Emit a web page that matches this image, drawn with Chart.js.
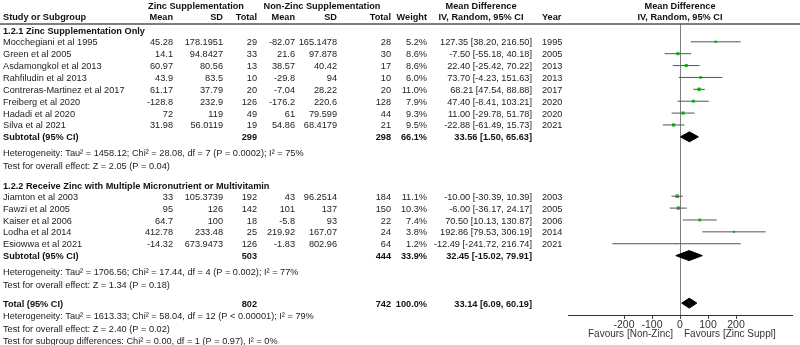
<!DOCTYPE html>
<html>
<head>
<meta charset="utf-8">
<script src="https://cdn.jsdelivr.net/npm/chart.js@4/dist/chart.umd.min.js"></script>
<style>
  html, body { margin: 0; padding: 0; background: #fff; }
</style>
</head>
<body>
<canvas id="forest" width="800" height="345"></canvas>
<script>
// 1.2.1 Zinc supplementation only
const studies1 = ['Mocchegiani et al 1995', 'Green et al 2005', 'Asdamongkol et al 2013', 'Rahfiludin et al 2013',
                  'Contreras-Martinez et al 2017', 'Freiberg et al 2020', 'Hadadi et al 2020', 'Silva et al 2021'];
const zincMean1 = [45.28, 14.1, 60.97, 43.9, 61.17, -128.8, 72, 31.98];
const zincSD1 = [178.1951, 94.8427, 80.56, 83.5, 37.79, 232.9, 119, 56.0119];
const zincN1 = [29, 33, 13, 10, 20, 126, 49, 19];
const ctrlMean1 = [-82.07, 21.6, 38.57, -29.8, -7.04, -176.2, 61, 54.86];
const ctrlSD1 = [165.1478, 97.878, 40.42, 94, 28.22, 220.6, 79.599, 68.4179];
const ctrlN1 = [28, 30, 17, 10, 20, 128, 44, 21];
const weight1 = [5.2, 8.6, 8.6, 6.0, 11.0, 7.9, 9.3, 9.5];
const md1 = [127.35, -7.50, 22.40, 73.70, 68.21, 47.40, 11.00, -22.88];
const lo1 = [38.20, -55.18, -25.42, -4.23, 47.54, -8.41, -29.78, -61.49];
const hi1 = [216.50, 40.18, 70.22, 151.63, 88.88, 103.21, 51.78, 15.73];
const year1 = [1995, 2005, 2013, 2013, 2017, 2020, 2020, 2021];

// 1.2.2 Zinc with multiple micronutrient or multivitamin
const studies2 = ['Jiamton et al 2003', 'Fawzi et al 2005', 'Kaiser et al 2006', 'Lodha et al 2014', 'Esiowwa et al 2021'];
const zincMean2 = [33, 95, 64.7, 412.78, -14.32];
const zincSD2 = [105.3739, 126, 100, 233.48, 673.9473];
const zincN2 = [192, 142, 18, 25, 126];
const ctrlMean2 = [43, 101, -5.8, 219.92, -1.83];
const ctrlSD2 = [96.2514, 137, 93, 167.07, 802.96];
const ctrlN2 = [184, 150, 22, 24, 64];
const weight2 = [11.1, 10.3, 7.4, 3.8, 1.2];
const md2 = [-10.00, -6.00, 70.50, 192.86, -12.49];
const lo2 = [-30.39, -36.17, 10.13, 79.53, -241.72];
const hi2 = [10.39, 24.17, 130.87, 306.19, 216.74];
const year2 = [2003, 2005, 2006, 2014, 2021];

// pooled: subgroup 1, subgroup 2, total
const pooledLabel = ['Subtotal (95% CI)', 'Subtotal (95% CI)', 'Total (95% CI)'];
const pooledZincN = [299, 503, 802];
const pooledCtrlN = [298, 444, 742];
const pooledWeight = [66.1, 33.9, 100.0];
const pooledMD = [33.56, 32.45, 33.14];
const pooledLo = [1.50, -15.02, 6.09];
const pooledHi = [65.63, 79.91, 60.19];

const xTicks = [-200, -100, 0, 100, 200];

// row layout (one unit = one table line)
const rows1 = studies1.map((s, i) => i);
const rows2 = studies2.map((s, i) => 13 + i);
const pooledRows = [8, 18, 22];

const F = '"Liberation Sans", Arial, sans-serif';
const fmt = v => v.toFixed(2);
const ci = (m, l, h) => fmt(m) + ' [' + fmt(l) + ', ' + fmt(h) + ']';

// build chart data from the arrays
const allMD = md1.concat(md2), allLo = lo1.concat(lo2), allHi = hi1.concat(hi2);
const allW = weight1.concat(weight2), allRows = rows1.concat(rows2);

const ciData = [];
allRows.forEach((r, i) => {
  ciData.push({ x: allLo[i], y: r }, { x: allHi[i], y: r }, { x: null, y: null });
});
const sqData = allRows.map((r, i) => ({ x: allMD[i], y: r }));

const dh = 0.42;
const diamonds = pooledRows.map((r, i) => ({
  type: 'scatter',
  data: [
    { x: pooledLo[i], y: r }, { x: pooledMD[i], y: r - dh },
    { x: pooledHi[i], y: r }, { x: pooledMD[i], y: r + dh }, { x: pooledLo[i], y: r }
  ],
  showLine: true,
  fill: 'shape',
  backgroundColor: '#000',
  borderColor: '#000',
  borderWidth: 1,
  pointRadius: 0
}));

const tablePlugin = {
  id: 'table',
  afterDraw(chart) {
    const c = chart.ctx, y = chart.scales.y;
    const py = v => y.getPixelForValue(v);
    const txt = (s, x, r, align, bold, color) => {
      c.font = (bold ? 'bold ' : '') + '9.2px ' + F;
      c.fillStyle = color || (bold ? '#111' : '#222');
      c.textAlign = align;
      c.textBaseline = 'middle';
      c.fillText(s, x, py(r) + 1);
    };
    c.save();
    // header
    txt('Zinc Supplementation', 196, -3.05, 'center', true);
    txt('Non-Zinc Supplementation', 322, -3.05, 'center', true);
    txt('Mean Difference', 481, -3.05, 'center', true);
    txt('Mean Difference', 680, -3.05, 'center', true);
    txt('Study or Subgroup', 3, -2.1, 'left', true);
    txt('Mean', 173, -2.1, 'right', true);
    txt('SD', 223, -2.1, 'right', true);
    txt('Total', 257, -2.1, 'right', true);
    txt('Mean', 295, -2.1, 'right', true);
    txt('SD', 337, -2.1, 'right', true);
    txt('Total', 391, -2.1, 'right', true);
    txt('Weight', 427, -2.1, 'right', true);
    txt('IV, Random, 95% CI', 481, -2.1, 'center', true);
    txt('Year', 542, -2.1, 'left', true);
    txt('IV, Random, 95% CI', 680, -2.1, 'center', true);
    // separator
    c.strokeStyle = '#555';
    c.lineWidth = 1.5;
    c.beginPath();
    c.moveTo(0, chart.chartArea.top);
    c.lineTo(800, chart.chartArea.top);
    c.stroke();

    const group = (names, zm, zs, zn, cm, cs, cn, w, m, l, h, yr, rows) => {
      names.forEach((n, i) => {
        const r = rows[i];
        txt(n, 3, r, 'left');
        txt(String(zm[i]), 173, r, 'right');
        txt(String(zs[i]), 223, r, 'right');
        txt(String(zn[i]), 257, r, 'right');
        txt(String(cm[i]), 295, r, 'right');
        txt(String(cs[i]), 337, r, 'right');
        txt(String(cn[i]), 391, r, 'right');
        txt(w[i].toFixed(1) + '%', 427, r, 'right');
        txt(ci(m[i], l[i], h[i]), 532, r, 'right');
        txt(String(yr[i]), 542, r, 'left');
      });
    };
    txt('1.2.1 Zinc Supplementation Only', 3, -0.95, 'left', true);
    group(studies1, zincMean1, zincSD1, zincN1, ctrlMean1, ctrlSD1, ctrlN1, weight1, md1, lo1, hi1, year1, rows1);
    txt('1.2.2 Receive Zinc with Multiple Micronutrient or Multivitamin', 3, 12.1, 'left', true);
    group(studies2, zincMean2, zincSD2, zincN2, ctrlMean2, ctrlSD2, ctrlN2, weight2, md2, lo2, hi2, year2, rows2);

    pooledRows.forEach((r, i) => {
      txt(pooledLabel[i], 3, r, 'left', true);
      txt(String(pooledZincN[i]), 257, r, 'right', true);
      txt(String(pooledCtrlN[i]), 391, r, 'right', true);
      txt(pooledWeight[i].toFixed(1) + '%', 427, r, 'right', true);
      txt(ci(pooledMD[i], pooledLo[i], pooledHi[i]), 532, r, 'right', true);
    });

    txt('Heterogeneity: Tau\u00B2 = 1458.12; Chi\u00B2 = 28.08, df = 7 (P = 0.0002); I\u00B2 = 75%', 3, 9.3, 'left');
    txt('Test for overall effect: Z = 2.05 (P = 0.04)', 3, 10.4, 'left');
    txt('Heterogeneity: Tau\u00B2 = 1706.56; Chi\u00B2 = 17.44, df = 4 (P = 0.002); I\u00B2 = 77%', 3, 19.3, 'left');
    txt('Test for overall effect: Z = 1.34 (P = 0.18)', 3, 20.4, 'left');
    txt('Heterogeneity: Tau\u00B2 = 1613.33; Chi\u00B2 = 58.04, df = 12 (P < 0.00001); I\u00B2 = 79%', 3, 23.0, 'left');
    txt('Test for overall effect: Z = 2.40 (P = 0.02)', 3, 24.1, 'left');
    txt('Test for subgroup differences: Chi\u00B2 = 0.00, df = 1 (P = 0.97), I\u00B2 = 0%', 3, 25.15, 'left');

    // favours labels
    c.font = '10px ' + F;
    c.fillStyle = '#333';
    c.textBaseline = 'middle';
    c.textAlign = 'right';
    c.fillText('Favours [Non-Zinc]', 673, 334);
    c.textAlign = 'left';
    c.fillText('Favours [Zinc Suppl]', 684, 334);
    c.restore();
  }
};

new Chart(document.getElementById('forest'), {
  type: 'scatter',
  data: {
    datasets: [
      {
        data: ciData,
        showLine: true,
        spanGaps: false,
        borderColor: '#555',
        borderWidth: 1,
        pointRadius: 0
      },
      {
        data: sqData,
        pointStyle: 'rect',
        pointRadius: ctx => 0.75 * Math.sqrt(allW[ctx.dataIndex]),
        backgroundColor: '#11cc11',
        borderWidth: 0
      },
      ...diamonds
    ]
  },
  options: {
    responsive: false,
    animation: false,
    devicePixelRatio: 1,
    layout: { padding: { left: 568, right: 8, top: 24, bottom: 0 } },
    plugins: { legend: { display: false }, tooltip: { enabled: false } },
    scales: {
      x: {
        type: 'linear',
        min: -400,
        max: 400,
        afterBuildTicks: scale => { scale.ticks = xTicks.map(v => ({ value: v })); },
        afterFit: scale => { scale.height = 30; },
        grid: {
          drawOnChartArea: true,
          color: ctx => (ctx.tick && ctx.tick.value === 0 ? '#808080' : 'rgba(0,0,0,0)'),
          tickColor: '#444',
          tickLength: 4
        },
        border: { display: true, color: '#333', width: 1 },
        ticks: { color: '#333', font: { family: F, size: 10.5 }, padding: 0 }
      },
      y: {
        type: 'linear',
        display: false,
        reverse: true,
        min: -1.5,
        max: 23
      }
    }
  },
  plugins: [tablePlugin]
});
</script>
</body>
</html>
